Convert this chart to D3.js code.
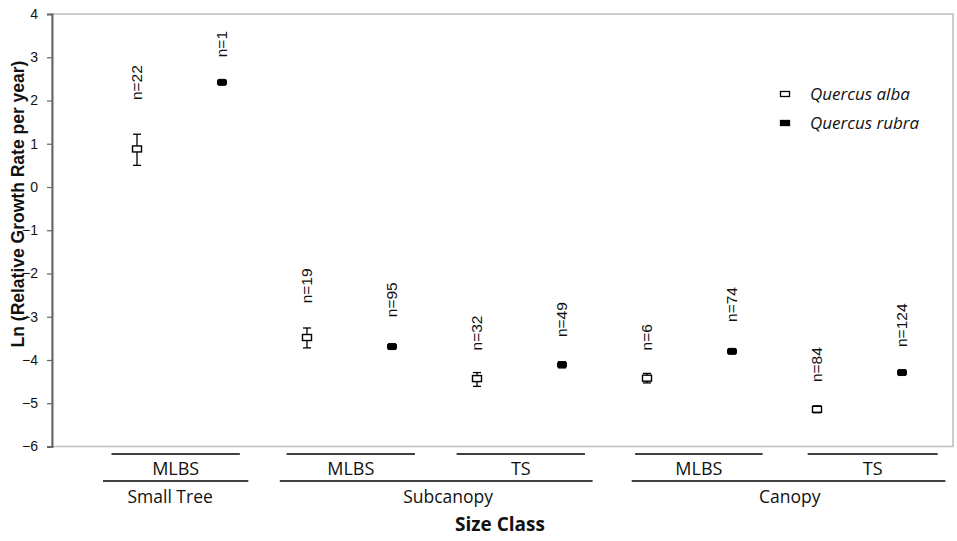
<!DOCTYPE html>
<html>
<head>
<meta charset="utf-8">
<script src="https://cdn.jsdelivr.net/npm/d3@7"></script>
<style>
  body { margin: 0; background: #fff; }
  #chart { width: 957px; height: 541px; }
  text { fill: #111; }
</style>
</head>
<body>
<div id="chart"></div>
<script>
// -----------------------------
// DATA
// -----------------------------
const categories = ["ST-MLBS-alba", "ST-MLBS-rubra", "SC-MLBS-alba", "SC-MLBS-rubra", "SC-TS-alba",
                    "SC-TS-rubra", "C-MLBS-alba", "C-MLBS-rubra", "C-TS-alba", "C-TS-rubra"];
const species = ["alba", "rubra", "alba", "rubra", "alba", "rubra", "alba", "rubra", "alba", "rubra"];
const means   = [0.88, 2.42, -3.48, -3.69, -4.43, -4.11, -4.42, -3.80, -5.14, -4.29];
const upper   = [1.22, 2.42, -3.26, -3.64, -4.29, -4.04, -4.31, -3.76, -5.06, -4.26];
const lower   = [0.50, 2.42, -3.72, -3.74, -4.61, -4.18, -4.53, -3.84, -5.22, -4.32];
const nLabels = ["n=22", "n=1", "n=19", "n=95", "n=32", "n=49", "n=6", "n=74", "n=84", "n=124"];
const nLabelAt = [2.01, 3.0, -2.69, -3.01, -3.78, -3.47, -3.78, -3.12, -4.51, -3.70];

const yTicks = [4, 3, 2, 1, 0, -1, -2, -3, -4, -5, -6];

// hierarchical x labels (spans in category units)
const siteLabels = ["MLBS", "MLBS", "TS", "MLBS", "TS"];
const siteSpans  = [[0.70, 2.21], [2.76, 4.27], [4.76, 6.27], [6.86, 8.36], [8.89, 10.42]];
const groupLabels = ["Small Tree", "Subcanopy", "Canopy"];
const groupSpans  = [[0.60, 2.31], [2.68, 6.36], [6.82, 10.51]];
const groupLabelAt = [1.39, 4.66, 8.68];

const legendItems = ["Quercus alba", "Quercus rubra"];

// -----------------------------
// SVG SETUP
// -----------------------------
const width = 957, height = 541;
const plot = { left: 52, right: 953, top: 14, bottom: 446.5 };

const svg = d3.select("#chart").append("svg")
    .attr("width", width)
    .attr("height", height);

svg.append("rect").attr("width", width).attr("height", height).attr("fill", "#fff");

const x = d3.scaleLinear().domain([0, 10.6]).range([plot.left, plot.right]);
const y = d3.scaleLinear().domain([-6, 4]).range([plot.bottom, plot.top]);

// plot frame
svg.append("rect")
    .attr("x", plot.left)
    .attr("y", plot.top)
    .attr("width", plot.right - plot.left)
    .attr("height", plot.bottom - plot.top)
    .attr("fill", "none")
    .attr("stroke", "#bdbdbd")
    .attr("stroke-width", 1.5);

// -----------------------------
// Y AXIS
// -----------------------------
const yAxis = svg.append("g")
    .attr("transform", `translate(${plot.left},0)`)
    .call(d3.axisLeft(y).tickValues(yTicks).tickSize(5).tickPadding(9).tickFormat(d3.format("d")));

yAxis.select(".domain").attr("stroke", "#666").attr("stroke-width", 2);
yAxis.selectAll(".tick line").attr("stroke", "#666").attr("stroke-width", 1.2);
yAxis.selectAll(".tick text")
    .style("font-family", "Arial, 'Liberation Sans', sans-serif")
    .style("font-size", "14px")
    .attr("fill", "#111");

svg.append("text")
    .attr("transform", `translate(24,204) rotate(-90)`)
    .attr("text-anchor", "middle")
    .style("font-family", "Arial, 'Liberation Sans', sans-serif")
    .style("font-size", "17.5px")
    .style("font-weight", "bold")
    .text("Ln (Relative Growth Rate per year)");

// -----------------------------
// POINTS + ERROR BARS
// -----------------------------
const pts = categories.map((c, i) => ({
    cat: c, idx: i + 1, sp: species[i], mean: means[i], up: upper[i], lo: lower[i],
    label: nLabels[i], labelAt: nLabelAt[i]
}));

const pg = svg.append("g")
    .selectAll("g")
    .data(pts)
    .enter()
    .append("g");

pg.append("line")
    .attr("x1", d => x(d.idx)).attr("x2", d => x(d.idx))
    .attr("y1", d => y(d.up)).attr("y2", d => y(d.lo))
    .attr("stroke", "#000").attr("stroke-width", 1.3);

pg.filter(d => d.up !== d.lo).selectAll(".cap")
    .data(d => [d.up, d.lo].map(v => ({ v, idx: d.idx })))
    .enter()
    .append("line")
    .attr("x1", d => x(d.idx) - 4).attr("x2", d => x(d.idx) + 4)
    .attr("y1", d => y(d.v)).attr("y2", d => y(d.v))
    .attr("stroke", "#000").attr("stroke-width", 1.3);

pg.append("rect")
    .attr("x", d => x(d.idx) - 4.5)
    .attr("y", d => y(d.mean) - 3)
    .attr("width", 9)
    .attr("height", 6)
    .attr("rx", d => d.sp === "rubra" ? 1.5 : 0)
    .attr("fill", d => d.sp === "alba" ? "#fff" : "#000")
    .attr("stroke", "#000")
    .attr("stroke-width", d => d.sp === "alba" ? 1.4 : 1);

pg.append("text")
    .attr("transform", d => `translate(${x(d.idx)},${y(d.labelAt)}) rotate(-90)`)
    .attr("dy", "0.35em")
    .attr("text-anchor", "start")
    .style("font-family", "Arial, 'Liberation Sans', sans-serif")
    .style("font-size", "15.5px")
    .text(d => d.label);

// -----------------------------
// LEGEND
// -----------------------------
const lg = svg.append("g").attr("transform", "translate(785,94)");
legendItems.forEach((name, i) => {
    const row = lg.append("g").attr("transform", `translate(0,${i * 29})`);
    row.append("rect")
        .attr("x", -4.5).attr("y", -2.5).attr("width", 9).attr("height", 5)
        .attr("fill", i === 0 ? "#fff" : "#000")
        .attr("stroke", "#000").attr("stroke-width", 1.3);
    row.append("text")
        .attr("x", 25).attr("dy", "0.35em")
        .style("font-family", "'Open Sans', sans-serif")
        .style("font-size", "17px")
        .style("font-style", "italic")
        .text(name);
});

// -----------------------------
// HIERARCHICAL X LABELS
// -----------------------------
const xl = svg.append("g");
const labFont = "'Open Sans', sans-serif";

xl.selectAll(".site-line")
    .data(siteSpans)
    .enter()
    .append("line")
    .attr("x1", d => x(d[0])).attr("x2", d => x(d[1]))
    .attr("y1", 454).attr("y2", 454)
    .attr("stroke", "#000").attr("stroke-width", 1.3);

xl.selectAll(".site-label")
    .data(siteLabels)
    .enter()
    .append("text")
    .attr("x", (d, i) => x((siteSpans[i][0] + siteSpans[i][1]) / 2))
    .attr("y", 475)
    .attr("text-anchor", "middle")
    .style("font-family", labFont)
    .style("font-size", "18px")
    .text(d => d);

xl.selectAll(".group-line")
    .data(groupSpans)
    .enter()
    .append("line")
    .attr("x1", d => x(d[0])).attr("x2", d => x(d[1]))
    .attr("y1", 481).attr("y2", 481)
    .attr("stroke", "#000").attr("stroke-width", 1.3);

xl.selectAll(".group-label")
    .data(groupLabels)
    .enter()
    .append("text")
    .attr("x", (d, i) => x(groupLabelAt[i]))
    .attr("y", 503)
    .attr("text-anchor", "middle")
    .style("font-family", labFont)
    .style("font-size", "17.5px")
    .text(d => d);

svg.append("text")
    .attr("x", 500)
    .attr("y", 531)
    .attr("text-anchor", "middle")
    .style("font-family", labFont)
    .style("font-size", "19px")
    .style("font-weight", "bold")
    .text("Size Class");
</script>
</body>
</html>
